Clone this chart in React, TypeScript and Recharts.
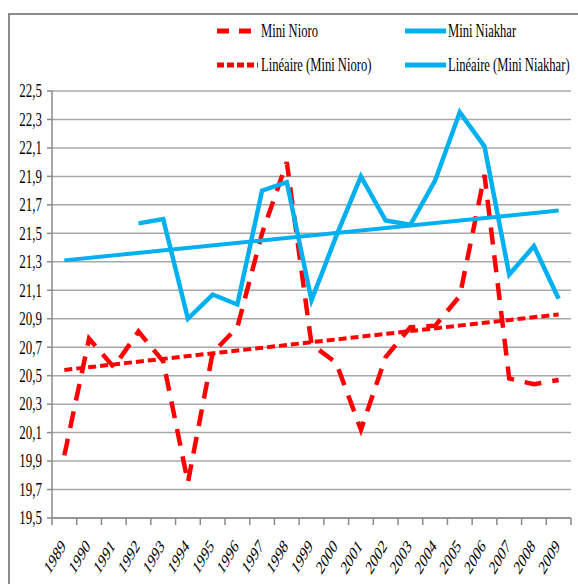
import React from 'react';
import { LineChart, Line, XAxis, YAxis, CartesianGrid } from 'recharts';

const years = [
  '1989', '1990', '1991', '1992', '1993', '1994', '1995', '1996', '1997', '1998', '1999',
  '2000', '2001', '2002', '2003', '2004', '2005', '2006', '2007', '2008', '2009',
];

const miniNioro = [
  19.94, 20.76, 20.56, 20.81, 20.6, 19.75, 20.66, 20.84, 21.5, 22.0, 20.72,
  20.59, 20.12, 20.63, 20.84, 20.85, 21.06, 21.91, 20.48, 20.44, 20.47,
];

const miniNiakhar = [
  null, null, null, 21.57, 21.6, 20.9, 21.07, 21.0, 21.8, 21.86, 21.03,
  21.48, 21.9, 21.59, 21.56, 21.87, 22.35, 22.11, 21.21, 21.41, 21.04,
];

const trendNioro = [
  20.54, null, null, null, null, null, null, null, null, null, null,
  null, null, null, null, null, null, null, null, null, 20.93,
];

const trendNiakhar = [
  21.31, null, null, null, null, null, null, null, null, null, null,
  null, null, null, null, null, null, null, null, null, 21.66,
];

const yTicks = [19.5, 19.7, 19.9, 20.1, 20.3, 20.5, 20.7, 20.9, 21.1, 21.3, 21.5, 21.7, 21.9, 22.1, 22.3, 22.5];

const legendItems = [
  { label: 'Mini Nioro', color: '#FF0000', dash: '12 10' },
  { label: 'Mini Niakhar', color: '#00B0F0', dash: undefined },
  { label: 'Linéaire (Mini Nioro)', color: '#FF0000', dash: '7 3' },
  { label: 'Linéaire (Mini Niakhar)', color: '#00B0F0', dash: undefined },
];

const data = years.map((year, i) => ({
  year,
  nioro: miniNioro[i],
  niakhar: miniNiakhar[i],
  trendNioro: trendNioro[i],
  trendNiakhar: trendNiakhar[i],
}));

const FONT = '"Liberation Serif", "DejaVu Serif", serif';
const AXIS = '#8a8a8a';
const GRID = '#a8a8a8';
const HALF = 12.35; // half a category step, tick marks sit between categories

const XTick = (props: any) => {
  const { x, y, payload, index } = props;
  const axisY = y - 7;
  return (
    <g>
      <line x1={x - HALF} y1={axisY} x2={x - HALF} y2={axisY + 7} stroke={AXIS} strokeWidth={1.5} />
      {index === years.length - 1 && (
        <line x1={x + HALF} y1={axisY} x2={x + HALF} y2={axisY + 7} stroke={AXIS} strokeWidth={1.5} />
      )}
      <text
        transform={`translate(${x + 2},${axisY + 29}) scale(0.66,1) rotate(-48)`}
        textAnchor="end"
        style={{ fontFamily: FONT, fontSize: 19 }}
        fill="#000"
      >
        {payload.value}
      </text>
    </g>
  );
};

const YTick = (props: any) => {
  const { x, y, payload } = props;
  return (
    <text
      transform={`translate(${x - 3},${y}) scale(0.72,1)`}
      textAnchor="end"
      dy="0.35em"
      style={{ fontFamily: FONT, fontSize: 18 }}
      fill="#000"
    >
      {String(payload.value.toFixed(1)).replace('.', ',')}
    </text>
  );
};

const ChartLegend = () => (
  <svg width={570} height={80} style={{ position: 'absolute', left: 0, top: 0 }}>
    {legendItems.map((item, i) => {
      const col = i % 2;
      const row = Math.floor(i / 2);
      const x0 = col === 0 ? 207 : 395;
      const cy = row === 0 ? 16 : 50;
      const tx = col === 0 ? 251 : 438;
      return (
        <g key={item.label}>
          <line
            x1={x0}
            y1={cy}
            x2={x0 + 41}
            y2={cy}
            stroke={item.color}
            strokeWidth={5}
            strokeDasharray={item.dash}
          />
          <text
            transform={`translate(${tx},${cy + 6}) scale(0.7,1)`}
            style={{ fontFamily: FONT, fontSize: 18 }}
            fill="#000"
          >
            {item.label}
          </text>
        </g>
      );
    })}
  </svg>
);

export default function App() {
  return (
    <>
      <style>{'body{overflow:hidden}'}</style>
      <div
        style={{
          position: 'absolute',
          left: 8,
          top: 13,
          width: 600,
          height: 600,
          border: '2px solid #8c8c8c',
          background: '#fff',
        }}
      >
        <LineChart
          width={570}
          height={570}
          data={data}
          margin={{ top: 76, right: 9, left: 0, bottom: 7 }}
        >
          <CartesianGrid vertical={false} stroke={GRID} strokeWidth={1.5} />
          <XAxis
            dataKey="year"
            interval={0}
            height={60}
            padding={{ left: HALF, right: HALF }}
            tickSize={7}
            tickMargin={0}
            tickLine={false}
            axisLine={{ stroke: AXIS, strokeWidth: 1.5 }}
            tick={<XTick />}
          />
          <YAxis
            width={42}
            domain={[19.5, 22.5]}
            ticks={yTicks}
            interval={0}
            tickSize={5}
            tickMargin={2}
            tickLine={{ stroke: AXIS, strokeWidth: 1.5 }}
            axisLine={{ stroke: AXIS, strokeWidth: 1.5 }}
            tick={<YTick />}
          />
          <Line
            dataKey="nioro"
            stroke="#FF0000"
            strokeWidth={4.5}
            strokeDasharray="17 11"
            dot={false}
            isAnimationActive={false}
          />
          <Line
            dataKey="niakhar"
            stroke="#00B0F0"
            strokeWidth={4.5}
            dot={false}
            isAnimationActive={false}
          />
          <Line
            dataKey="trendNioro"
            stroke="#FF0000"
            strokeWidth={4}
            strokeDasharray="8 4"
            connectNulls
            dot={false}
            isAnimationActive={false}
          />
          <Line
            dataKey="trendNiakhar"
            stroke="#00B0F0"
            strokeWidth={4}
            connectNulls
            dot={false}
            isAnimationActive={false}
          />
        </LineChart>
        <ChartLegend />
      </div>
    </>
  );
}
